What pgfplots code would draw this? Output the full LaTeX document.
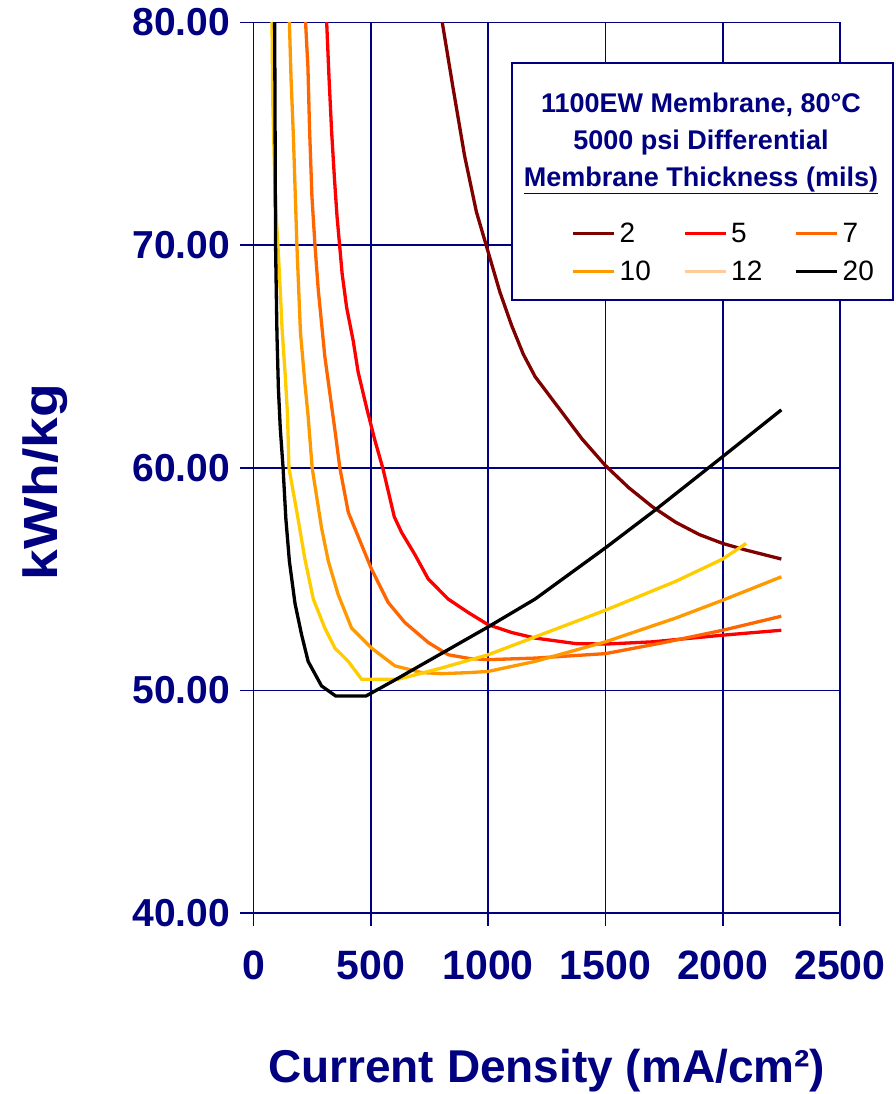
\documentclass[border=0pt]{standalone}
\usepackage{pgfplots}
\pgfplotsset{compat=1.18}
\usepackage{fontspec}
\setmainfont{Liberation Sans}
\usepackage{graphicx}
\definecolor{navy}{RGB}{0,0,128}
\definecolor{c2}{RGB}{128,0,0}
\definecolor{c5}{RGB}{255,0,0}
\definecolor{c7}{RGB}{255,102,0}
\definecolor{c10}{RGB}{255,153,0}
\definecolor{c12}{RGB}{255,204,0}
\definecolor{c12leg}{RGB}{255,204,153}
\begin{document}
\begin{tikzpicture}
\useasboundingbox (-253.5pt,-181pt) rectangle (641.5pt,913pt);
\begin{axis}[
  scale only axis, width=586.5pt, height=890.5pt,
  xmin=0, xmax=2500, ymin=40, ymax=80,
  xtick={0,500,1000,1500,2000,2500}, ytick={40,50,60,70,80},
  grid=major,
  grid style={navy, line width=1.6pt},
  axis line style={navy, line width=1.6pt},
  tick style={navy, line width=1.6pt},
  tick align=outside, major tick length=13pt,
  xtick pos=bottom, ytick pos=left,
  scaled ticks=false,
  /pgf/number format/assume math mode=true,
  /pgf/number format/1000 sep={},
  xticklabel style={font=\fontsize{41}{44}\selectfont\bfseries, text=navy, yshift=-21pt},
  yticklabel style={font=\fontsize{39}{42}\selectfont\bfseries, text=navy, xshift=-7pt,
     /pgf/number format/.cd, fixed, fixed zerofill, precision=2},
  xlabel={Current Density (mA/cm²)},
  xlabel style={font=\fontsize{46}{50}\selectfont\bfseries, text=navy,
     at={(axis description cs:0.5,-0.177)}, anchor=center},
  ylabel={\scalebox{1.15}[1]{kWh/kg}},
  ylabel style={font=\fontsize{48}{50}\selectfont\bfseries, text=navy,
     at={(axis description cs:-0.356,0.484)}, anchor=center, rotate=0},
  clip mode=individual,
  legend columns=3,
  legend cell align=left,
  legend image code/.code={\draw[#1, line width=2.5pt] (0pt,0pt) -- (41pt,0pt);},
  legend style={draw=none, fill=none, at={(axis description cs:0.5431,0.7775)},
     anchor=north west, inner sep=0pt, row sep=13pt, column sep=0pt,
     font=\fontsize{28}{30}\selectfont,
     nodes={text width=60pt, inner xsep=4pt, align=left}},
]
% 2 mils
\addplot[c2, line width=3.3pt, forget plot] coordinates {
(790,81.3) (800,80.3) (850,77.1) (900,74.0) (950,71.5) (1000,69.7) (1050,67.9)
(1100,66.4) (1150,65.1) (1200,64.1) (1300,62.7) (1400,61.3) (1500,60.1) (1600,59.1)
(1700,58.25) (1800,57.55) (1900,57.0) (2000,56.6) (2100,56.3) (2250,55.9)};
% 5 mils
\addplot[c5, line width=3.3pt, forget plot] coordinates {
(300,82.5) (312,80) (322,77.5) (333,75.1) (345,73.0) (356,71.3) (367,70) (378,68.7)
(397,67.2) (425,65.7) (446,64.3) (482,62.7) (517,61.25) (552,59.95) (600,57.8)
(631,57.1) (688,56.1) (745,55.0) (830,54.1) (915,53.5) (1000,52.95) (1100,52.6)
(1200,52.35) (1375,52.1) (1500,52.08) (1700,52.18) (2000,52.48) (2250,52.7)};
% 7 mils
\addplot[c7, line width=3.3pt, forget plot] coordinates {
(218,82) (222,80) (232,78) (239,75.2) (249,72.2) (262,70) (276,68) (290,66.5)
(304,65) (326,63.3) (347,61.7) (368,60) (404,58.0) (503,55.45) (574,53.95)
(645,53.05) (745,52.15) (830,51.6) (921,51.43) (1000,51.38) (1200,51.45)
(1500,51.65) (1750,52.15) (2000,52.7) (2250,53.33)};
% 10 mils
\addplot[c10, line width=3.3pt, forget plot] coordinates {
(150,81.5) (153,80) (160,77.5) (170,74.9) (185,70) (200,66.1) (219,63.8) (233,62.3)
(250,60) (290,57.3) (319,55.8) (361,54.3) (418,52.8) (503,51.9) (603,51.1)
(716,50.8) (801,50.75) (921,50.8) (1000,50.85) (1200,51.3) (1500,52.18)
(1800,53.25) (2000,54.05) (2250,55.1)};
% 12 mils
\addplot[c12, line width=3.3pt, forget plot] coordinates {
(77,84) (79,80) (82,76.5) (93,72) (104,70) (113,68.2) (122,66.2) (135,64.2)
(145,62.4) (151,60) (190,57.7) (219,55.9) (255,54.1) (304,52.8) (347,51.9)
(404,51.3) (461,50.5) (617,50.5) (800,51.0) (1000,51.6) (1200,52.4) (1500,53.6)
(1800,54.9) (2000,55.9) (2100,56.6)};
% 20 mils
\addplot[black, line width=3.3pt, forget plot] coordinates {
(88,84) (91,78) (94,70) (100,66) (106,63.6) (114,61.8) (126,60) (138,57.7)
(153,55.8) (177,53.9) (205,52.5) (233,51.3) (290,50.2) (350,49.75) (480,49.75)
(600,50.45) (800,51.65) (1000,52.85) (1200,54.1) (1500,56.4) (1700,58.0)
(2000,60.5) (2250,62.6)};
% legend box and title
\draw[navy, line width=2pt, fill=white] (axis description cs:0.4408,0.6884) rectangle (axis description cs:1.0904,0.9542);
\node[align=center, font=\fontsize{27}{37}\selectfont\bfseries, text=navy]
  at (axis description cs:0.763,0.864)
  {1100EW Membrane, 80°C\\5000 psi Differential\\\underline{Membrane Thickness (mils)}};
\addlegendimage{c2}\addlegendentry{2}
\addlegendimage{c5}\addlegendentry{5}
\addlegendimage{c7}\addlegendentry{7}
\addlegendimage{c10}\addlegendentry{10}
\addlegendimage{c12leg}\addlegendentry{12}
\addlegendimage{black}\addlegendentry{20}
\end{axis}
\end{tikzpicture}
\end{document}
